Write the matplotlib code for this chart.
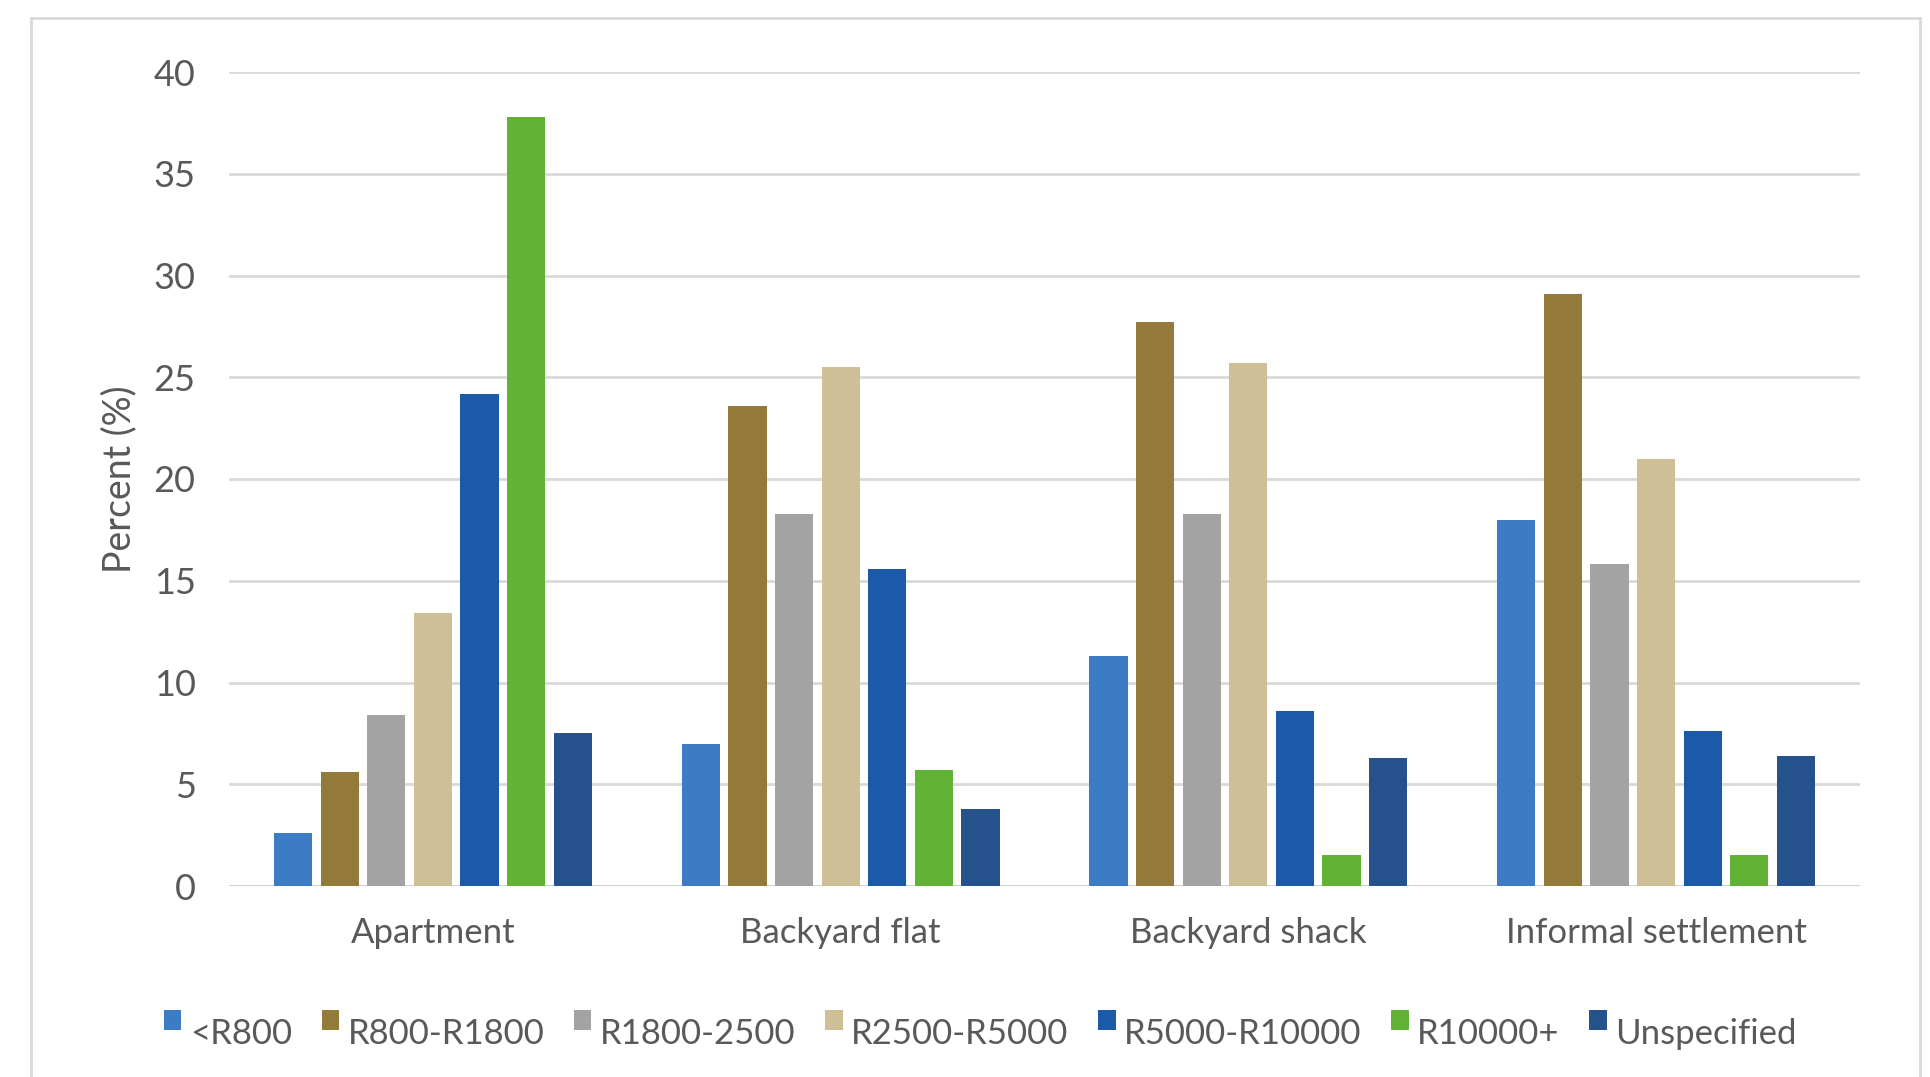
import matplotlib
matplotlib.use("Agg")
import matplotlib.pyplot as plt
import numpy as np
from matplotlib.patches import Rectangle, Patch
from matplotlib.legend_handler import HandlerPatch

categories = ["Apartment", "Backyard flat", "Backyard shack", "Informal settlement"]
series_names = ["<R800", "R800-R1800", "R1800-2500", "R2500-R5000",
                "R5000-R10000", "R10000+", "Unspecified"]
lt_r800 = [2.6, 7.0, 11.3, 18.0]
r800_r1800 = [5.6, 23.6, 27.7, 29.1]
r1800_2500 = [8.4, 18.3, 18.3, 15.8]
r2500_r5000 = [13.4, 25.5, 25.7, 21.0]
r5000_r10000 = [24.2, 15.6, 8.6, 7.6]
r10000_plus = [37.8, 5.7, 1.5, 1.5]
unspecified = [7.5, 3.8, 6.3, 6.4]
yticks = [0, 5, 10, 15, 20, 25, 30, 35, 40]

series = [lt_r800, r800_r1800, r1800_2500, r2500_r5000, r5000_r10000, r10000_plus, unspecified]
colors = ["#3C7CC4", "#947A3A", "#A3A3A3", "#CFBF97", "#1A5AA8", "#62B236", "#25528C"]

plt.rcParams['font.family'] = ['Lato', 'DejaVu Sans']
text_color = "#595959"

W, H = 1930, 1077
fig = plt.figure(figsize=(W / 100, H / 100), dpi=100)
fig.patch.set_facecolor("white")

# outer frame
fig.patches.append(Rectangle((31 / W, -0.05), (1920 - 31) / W, 1.05 - 18 / H,
                             transform=fig.transFigure, fill=False,
                             edgecolor="#D9D9D9", linewidth=2))

ax = fig.add_axes([229 / W, 1 - 886 / H, (1860 - 229) / W, (886 - 72) / H])
x = np.arange(len(categories))
n = len(series)
slot = 0.8 / n
bw = slot * 0.82
for i, (vals, col, name) in enumerate(zip(series, colors, series_names)):
    ax.bar(x - 0.4 + slot * (i + 0.5), vals, width=bw, color=col, label=name, zorder=3)

ax.set_xlim(-0.5, len(categories) - 0.5)
ax.set_ylim(0, 40)
ax.set_yticks(yticks)
ax.set_yticklabels([str(t) for t in yticks])
ax.set_xticks(x)
ax.set_xticklabels(categories)
ax.yaxis.grid(True, color="#D9D9D9", linewidth=2, zorder=0)
ax.set_axisbelow(True)
for s in ax.spines.values():
    s.set_visible(False)
ax.axhline(0, color="#D0D0D0", linewidth=2, zorder=2)
ax.tick_params(axis='both', length=0, colors=text_color)
ax.tick_params(axis='y', labelsize=26, pad=24)
ax.tick_params(axis='x', labelsize=25, pad=22)
ax.set_ylabel("Percent (%)", fontsize=27, color=text_color)
ax.yaxis.set_label_coords(-0.056, 0.5)


def raised_square(legend, orig_handle, xdescent, ydescent, width, height, fontsize):
    return Rectangle((-xdescent, -ydescent + 0.6 * height), width, height)


handles = [Patch(facecolor=c, edgecolor='none') for c in colors]
leg = fig.legend(handles, series_names, loc="center", bbox_to_anchor=(0.508, 0.040),
                 ncol=7, frameon=False, fontsize=25, handlelength=0.5, handleheight=0.5,
                 handletextpad=0.25, columnspacing=0.85, labelcolor=text_color,
                 handler_map={Patch: HandlerPatch(patch_func=raised_square)})

fig.savefig("out.png", dpi=100, facecolor="white")
